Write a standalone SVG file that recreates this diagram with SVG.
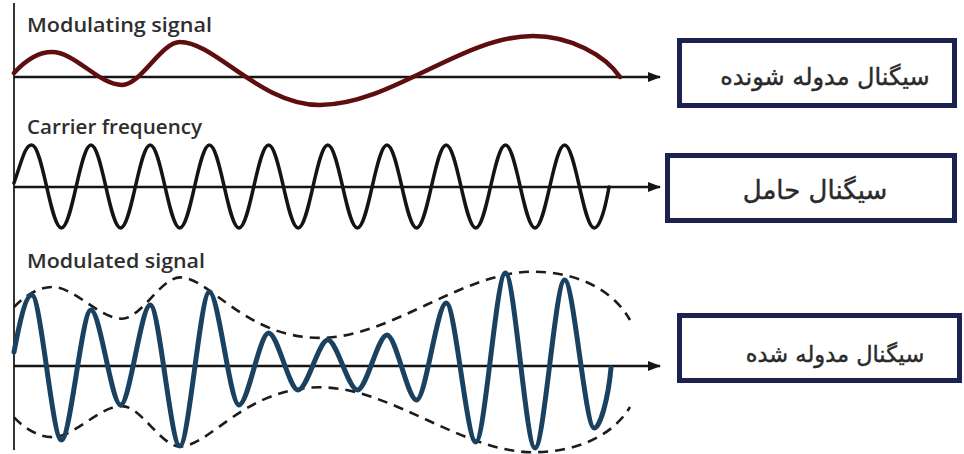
<svg xmlns="http://www.w3.org/2000/svg" width="964" height="454" viewBox="0 0 964 454">
  <style>
    .axis{fill:none;stroke:#151515;stroke-width:2.5}
    .lbl{font-family:"Open Sans","DejaVu Sans",sans-serif;font-weight:600;font-size:19px;fill:#2e2e2e}
    .box{fill:#ffffff;stroke:#1b2150;stroke-width:5}
    .fa{font-family:"DejaVu Sans",sans-serif;font-size:24px;fill:#2a2a2a;text-anchor:middle;stroke:#2a2a2a;stroke-width:0.4}
    .env{fill:none;stroke:#1c1c1c;stroke-width:2.6;stroke-dasharray:10 7}
  </style>
  <defs>
    <marker id="arr" markerWidth="14" markerHeight="12" refX="12" refY="5" orient="auto" markerUnits="userSpaceOnUse">
      <path d="M0,0 L13,5 L0,10 Z" fill="#151515"/>
    </marker>
  </defs>
  <rect width="964" height="454" fill="#ffffff"/>

  <g id="axes">
    <line x1="14" y1="3" x2="14" y2="450" stroke="#333" stroke-width="2"/>
    <line class="axis" x1="14" y1="77" x2="660" y2="77" marker-end="url(#arr)"/>
    <line class="axis" x1="14" y1="187" x2="660" y2="187" marker-end="url(#arr)"/>
    <line class="axis" x1="14" y1="366" x2="660" y2="366" marker-end="url(#arr)"/>
  </g>

  <g id="labels">
    <text class="lbl" x="27" y="32" textLength="185" lengthAdjust="spacingAndGlyphs">Modulating signal</text>
    <text class="lbl" x="27" y="134" textLength="175" lengthAdjust="spacingAndGlyphs">Carrier frequency</text>
    <text class="lbl" x="27" y="268" textLength="178" lengthAdjust="spacingAndGlyphs">Modulated signal</text>
  </g>

  <g id="modulating-wave">
    <path d="M14,73 C24,62 38,52 52,52 C75,52 99,85 122,85 C141,85 161,42 180,42 C215,42 260,105 320,105 C391,105 462,36 533,36 C570,36 605,55 620,77" fill="none" stroke="#5e0e0e" stroke-width="4.5" stroke-linecap="round"/>
  </g>

  <g id="carrier-wave">
    <path d="M14,183 C22,160 25,145 31.8,145 c10.8,0 18.8,83 29.6,83 s18.8,-83 29.6,-83 s18.8,83 29.6,83 s18.8,-83 29.6,-83 s18.8,83 29.6,83 s18.8,-83 29.6,-83 s18.8,83 29.6,83 s18.8,-83 29.6,-83 s18.8,83 29.6,83 s18.8,-83 29.6,-83 s18.8,83 29.6,83 s18.8,-83 29.6,-83 s18.8,83 29.6,83 s18.8,-83 29.6,-83 s18.8,83 29.6,83 s18.8,-83 29.6,-83 s18.8,83 29.6,83 s18.8,-83 29.6,-83 s18.8,83 29.6,83 C599.6,228 605,210 609,187" fill="none" stroke="#141414" stroke-width="3.5" stroke-linecap="round"/>
  </g>

  <g id="envelope">
    <path class="env" d="M14,307.2 C24,296.6 38,287 52,287 C75,287 99,318.7 122,318.7 C141,318.7 161,277.4 180,277.4 C210,277.4 245,337.9 320,337.9 C391,337.9 462,271.7 533,271.7 C570,271.7 610,285 630,320"/>
    <path class="env" d="M14,417.4 C24,427.7 38,437.1 52,437.1 C75,437.1 99,406.1 122,406.1 C141,406.1 161,446.5 180,446.5 C210,446.5 245,387.3 320,387.3 C391,387.3 462,452.2 533,452.2 C570,452.2 610,440 630,407"/>
  </g>

  <g id="modulated-wave">
    <path d="M14,352 C20,320 26,295 31.8,295 C40.8,295 52.4,440 61.4,440 C70.4,440 82,310 91,310 C100,310 111.6,405 120.6,405 C129.6,405 141.2,305 150.2,305 C159.2,305 170.8,446 179.8,446 C188.8,446 200.4,292 209.4,292 C218.4,292 230,405 239,405 C248,405 259.6,333 268.6,333 C277.6,333 289.2,390 298.2,390 C307.2,390 318.8,340 327.8,340 C336.8,340 348.4,390 357.4,390 C366.4,390 378,335 387,335 C396,335 407.6,400 416.6,400 C425.6,400 437.2,303 446.2,303 C455.2,303 466.8,442 475.8,442 C484.8,442 496.4,273 505.4,273 C514.4,273 526,448 535,448 C544,448 555.6,280 564.6,280 C573.6,280 585.2,428 594.2,428 C600,428 608,400 611,368" fill="none" stroke="#1a4260" stroke-width="5" stroke-linecap="round" stroke-linejoin="round"/>
  </g>

  <g id="box-modulating">
    <rect class="box" x="679.5" y="40.5" width="275" height="65"/>
    <text class="fa" x="825" y="85" direction="rtl">سیگنال مدوله شونده</text>
  </g>
  <g id="box-carrier">
    <rect class="box" x="667.5" y="155.5" width="287" height="65"/>
    <text class="fa" x="815" y="199" direction="rtl" style="font-size:26px">سیگنال حامل</text>
  </g>
  <g id="box-modulated">
    <rect class="box" x="679.5" y="315.5" width="280" height="65"/>
    <text class="fa" x="835" y="362" direction="rtl" style="font-size:22.5px">سیگنال مدوله شده</text>
  </g>
</svg>
